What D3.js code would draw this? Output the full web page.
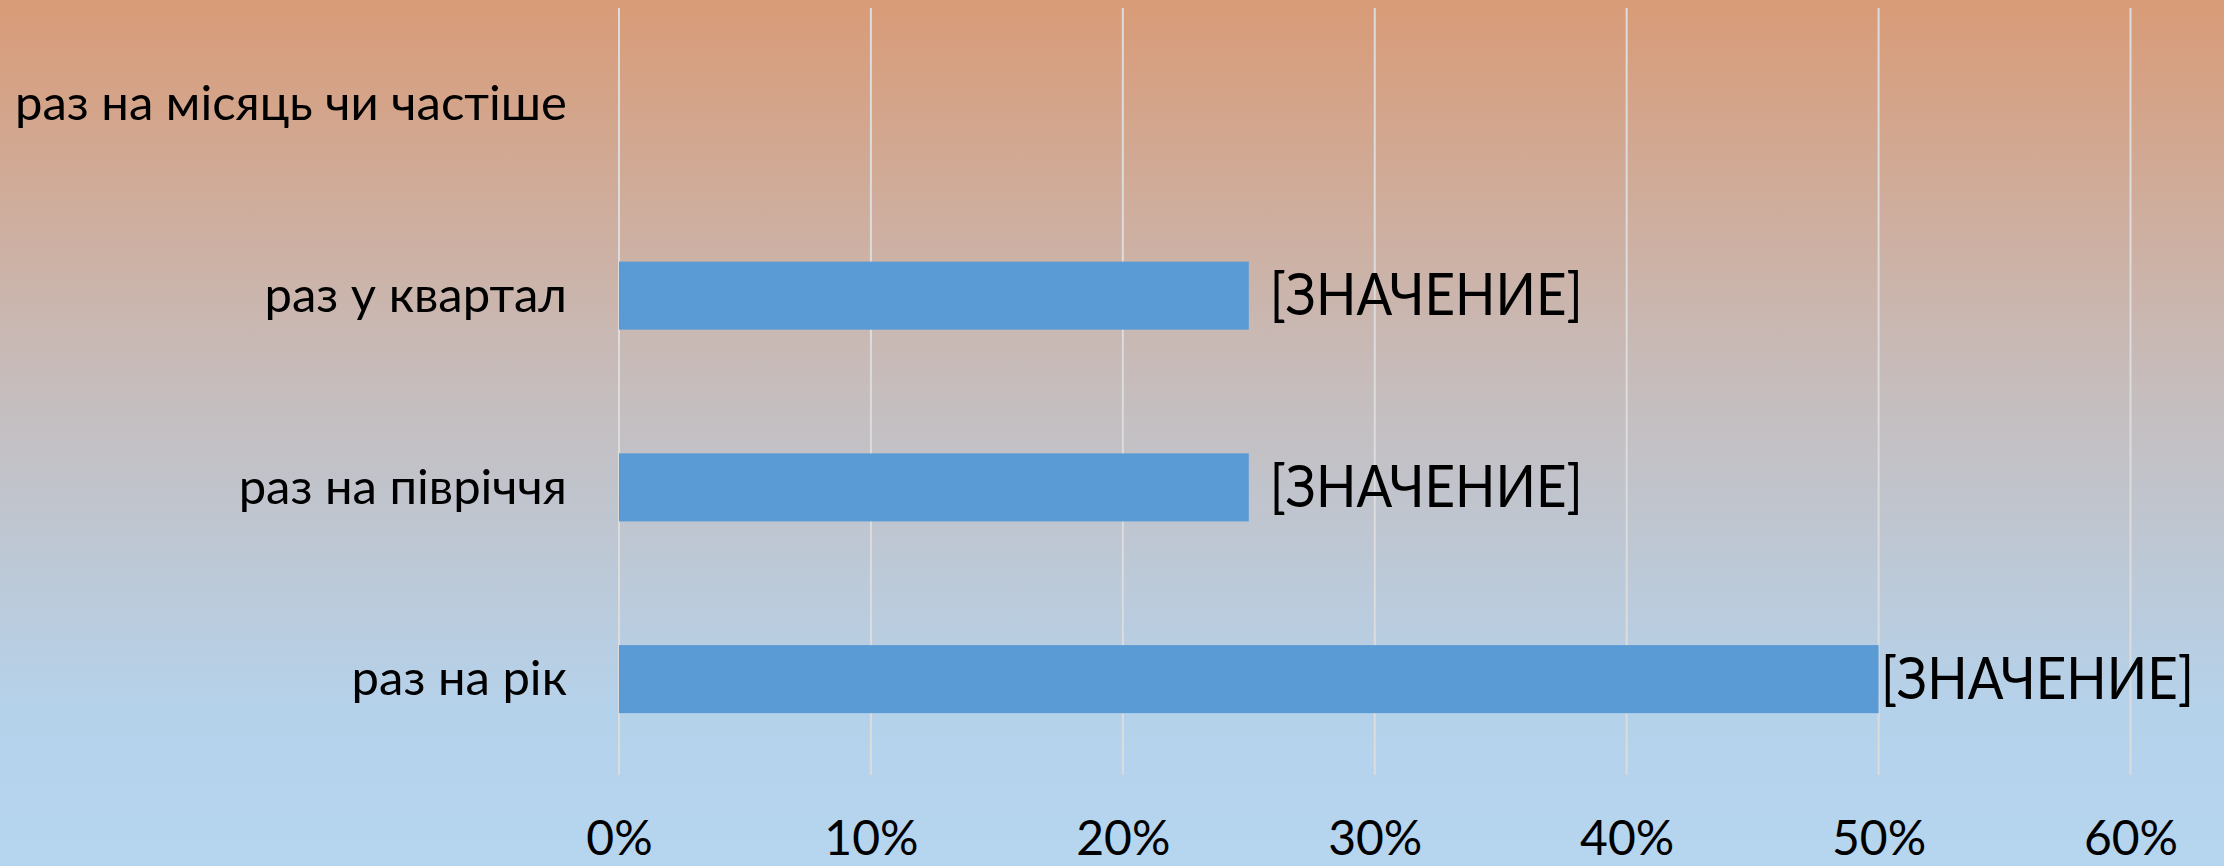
<!DOCTYPE html>
<html>
<head>
<meta charset="utf-8">
<script src="https://cdn.jsdelivr.net/npm/d3@7"></script>
<style>
  html, body { margin: 0; padding: 0; overflow: hidden; }
  text { font-family: Lato, "Noto Sans", sans-serif; fill: #000; }
</style>
</head>
<body>
<div id="chart"></div>
<script>
// chart size
const width = 2224;
const height = 866;

// data
const categories = ["раз на місяць чи частіше", "раз у квартал", "раз на півріччя", "раз на рік"];
const values = [null, 0.25, 0.25, 0.5];
const valueLabel = "[ЗНАЧЕНИЕ]";
const ticks = [0, 0.1, 0.2, 0.3, 0.4, 0.5, 0.6];

const svg = d3.select("#chart")
    .append("svg")
    .attr("width", width)
    .attr("height", height);

// background gradient (orange on top, light blue at the bottom)
const defs = svg.append("defs");
const grad = defs.append("linearGradient")
    .attr("id", "bg")
    .attr("x1", 0).attr("y1", 0)
    .attr("x2", 0).attr("y2", 1);
grad.append("stop").attr("offset", "0%").attr("stop-color", "#d99b77");
grad.append("stop").attr("offset", "45%").attr("stop-color", "#c6bdbd");
grad.append("stop").attr("offset", "82%").attr("stop-color", "#b5d2eb");
grad.append("stop").attr("offset", "100%").attr("stop-color", "#b6d5ee");

svg.append("rect")
    .attr("width", width)
    .attr("height", height)
    .attr("fill", "url(#bg)");

// scales
const x = d3.scaleLinear()
    .domain([0, 0.6])
    .range([619, 2130.5]);

const y = d3.scaleBand()
    .domain(categories)
    .range([8, 775])
    .paddingInner(0.645)
    .paddingOuter(0.3225);

// gridlines
svg.append("g")
    .selectAll("line")
    .data(ticks)
    .join("line")
    .attr("x1", d => x(d))
    .attr("x2", d => x(d))
    .attr("y1", 8)
    .attr("y2", 775)
    .attr("stroke", "#dcdcdc")
    .attr("stroke-width", 2);

// bars
const rows = categories.map((c, i) => ({ cat: c, value: values[i] }));

svg.append("g")
    .selectAll("rect")
    .data(rows.filter(d => d.value != null))
    .join("rect")
    .attr("x", x(0))
    .attr("y", d => y(d.cat))
    .attr("width", d => x(d.value) - x(0))
    .attr("height", y.bandwidth())
    .attr("fill", "#5b9bd5");

// x axis (labels only)
const xAxis = svg.append("g")
    .attr("transform", `translate(0, 855)`)
    .call(d3.axisBottom(x).tickValues(ticks).tickFormat(d3.format(".0%")).tickSize(0).tickPadding(0));
xAxis.select(".domain").remove();
xAxis.selectAll("text")
    .attr("dy", 0)
    .attr("y", 0)
    .style("font-family", "Lato, 'Noto Sans', sans-serif")
    .style("font-size", "48px")
    .attr("fill", "#000");

// category labels
svg.append("g")
    .selectAll("text")
    .data(categories)
    .join("text")
    .attr("x", 567)
    .attr("y", d => y(d) + y.bandwidth() / 2)
    .attr("dy", "0.33em")
    .attr("text-anchor", "end")
    .attr("font-size", "49px")
    .text(d => d);

// value labels (Calibri is narrower than Lato, so squeeze to its width)
svg.append("g")
    .selectAll("text")
    .data(rows.filter(d => d.value != null))
    .join("text")
    .attr("x", d => x(d.value) + 21)
    .attr("y", d => y(d.cat) + y.bandwidth() / 2)
    .attr("dy", "0.34em")
    .attr("font-size", "58px")
    .attr("textLength", 313)
    .attr("lengthAdjust", "spacingAndGlyphs")
    .text(valueLabel)
    .each(function () {
        const box = this.getBBox();
        if (box.x + box.width > 2194) {
            d3.select(this).attr("x", 2194 - box.width);
        }
    });
</script>
</body>
</html>
